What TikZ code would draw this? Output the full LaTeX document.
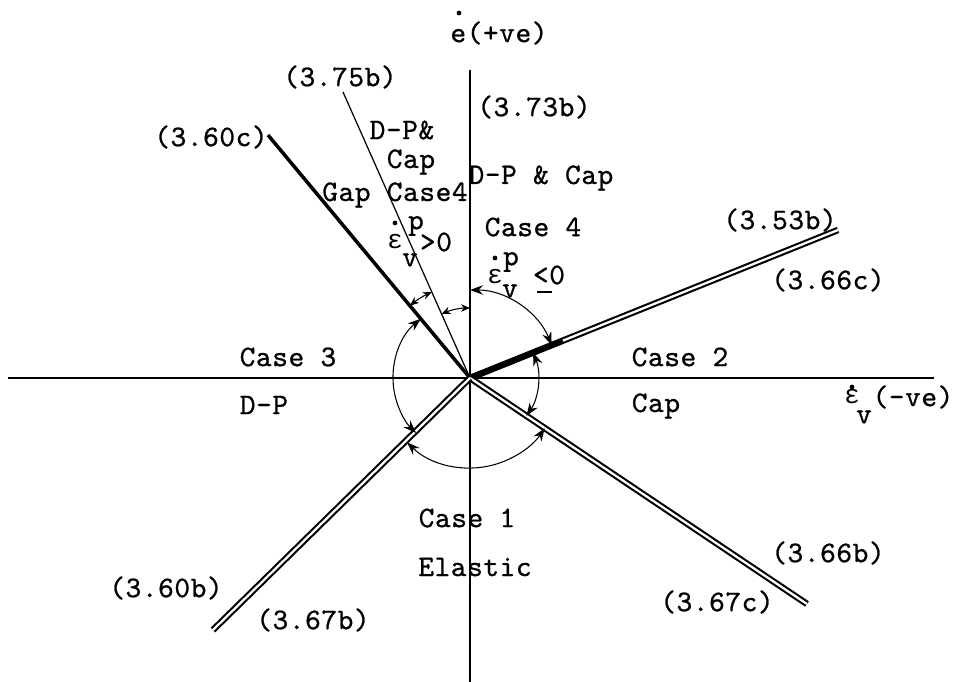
\documentclass[tikz,border=0pt]{standalone}
\usepackage{fontspec}
\newfontfamily\tw{lmmono10-regular.otf}[LetterSpace=2, FakeBold=0.8]
\newfontfamily\greek{Liberation Mono}
\usetikzlibrary{arrows.meta}

\begin{document}
\begin{tikzpicture}[
  x=0.02cm, y=0.02cm,
  >={Stealth[length=2.6mm, width=1.9mm]},
  lbl/.style={font=\tw\fontsize{17}{19}\selectfont, inner sep=0pt},
  gk/.style={font=\greek\fontsize{15}{17}\selectfont, inner sep=0pt},
  axisline/.style={line width=1.7pt},
  dline/.style={double, double distance=1.3pt, line width=1.2pt},
  sweep/.style={<->, line width=0.6pt},
  ]
  \useasboundingbox (-470,-304) rectangle (484,378);

  % origin and ray ends
  \coordinate (o) at (0,0);
  \coordinate (top) at (0,308);
  \coordinate (bot) at (0,-304);
  \coordinate (left) at (-462,0);
  \coordinate (right) at (464,0);
  \coordinate (r60c) at (-202,243);
  \coordinate (r75b) at (-127,286);
  \coordinate (r53b) at (368,148);
  \coordinate (r66b) at (337,-226);
  \coordinate (r60b) at (-257,-252);

  % axes
  \draw[axisline] (top) -- (bot);
  \draw[axisline] (left) -- (right);

  % rays
  \draw[line width=2pt] (o) -- (r60c);
  \draw[line width=0.7pt] (o) -- (r75b);
  \draw[dline] (o) -- (r53b);
  \draw[line width=3pt] (o) -- (21.9:100);
  \draw[dline] (o) -- (r66b);
  \draw[dline] (o) -- (r60b);

  % sweeps between the rays
  \draw[sweep] (90:88) arc[start angle=90, end angle=21.9, radius=88];
  \draw[sweep] (21.9:68) arc[start angle=21.9, end angle=-33.9, radius=68];
  \draw[sweep] (225.6:90) arc[start angle=225.6, end angle=326.1, radius=90];
  \draw[sweep] (129.7:77) arc[start angle=129.7, end angle=225.6, radius=77];
  \draw[sweep, >={Stealth[length=1.8mm, width=1.5mm]}] (114:94) arc[start angle=114, end angle=129.7, radius=94];
  \draw[sweep, >={Stealth[length=1.8mm, width=1.5mm]}] (90:70) arc[start angle=90, end angle=114, radius=70];

  % axis labels
  \node[lbl] (edot) at (29,345) {e(+ve)};
  \fill (-11,365) circle (2.4);
  \node[gk] (epsv) at (382,-19) {ε};
  \fill (382,-9) circle (2.4);
  \node[lbl] (epsvsub) at (394,-39) {v};
  \node[lbl] (neg) at (443,-19) {(-ve)};

  % equation labels
  \node[lbl] (l75b) at (-130,301) {(3.75b)};
  \node[lbl] (l73b) at (64,271) {(3.73b)};
  \node[lbl] (l60c) at (-259,241) {(3.60c)};
  \node[lbl] (l53b) at (310,158) {(3.53b)};
  \node[lbl] (l66c) at (358,98) {(3.66c)};
  \node[lbl] (l66b) at (358,-175) {(3.66b)};
  \node[lbl] (l67c) at (247,-224) {(3.67c)};
  \node[lbl] (l60b) at (-304,-210) {(3.60b)};
  \node[lbl] (l67b) at (-157,-242) {(3.67b)};

  % cases
  \node[lbl] (dpa) at (-68,248) {D-P\&};
  \node[lbl] (capa) at (-59,216) {Cap};
  \node[lbl] (gap) at (-75,183) {Gap Case4};
  \node[lbl] (dpb) at (71,200) {D-P \& Cap};
  \node[lbl] (case4) at (63,151) {Case 4};
  \node[lbl] (case3) at (-182,21) {Case 3};
  \node[lbl] (dp) at (-206,-27) {D-P};
  \node[lbl] (case2) at (210,21) {Case 2};
  \node[lbl] (cap) at (186,-28) {Cap};
  \node[lbl] (case1) at (-3,-140) {Case 1};
  \node[lbl] (elastic) at (5,-189) {Elastic};

  % plastic strain rate conditions
  \node[gk] (epsl) at (-75,136) {ε};
  \fill (-75,155) circle (2.4);
  \node[lbl] (epslp) at (-54,152) {p};
  \node[lbl] (epslv) at (-60,118) {v};
  \node[lbl] (gtz) at (-34,136) {>0};
  \node[gk] (epsr) at (25,101) {ε};
  \fill (25,120) circle (2.4);
  \node[lbl] (epsrp) at (41,116) {p};
  \node[lbl] (epsrv) at (40,87) {v};
  \node[lbl] (ltz) at (79,103) {<0};
  \draw[line width=0.7pt] (67,86) -- (82,86);
\end{tikzpicture}
\end{document}
